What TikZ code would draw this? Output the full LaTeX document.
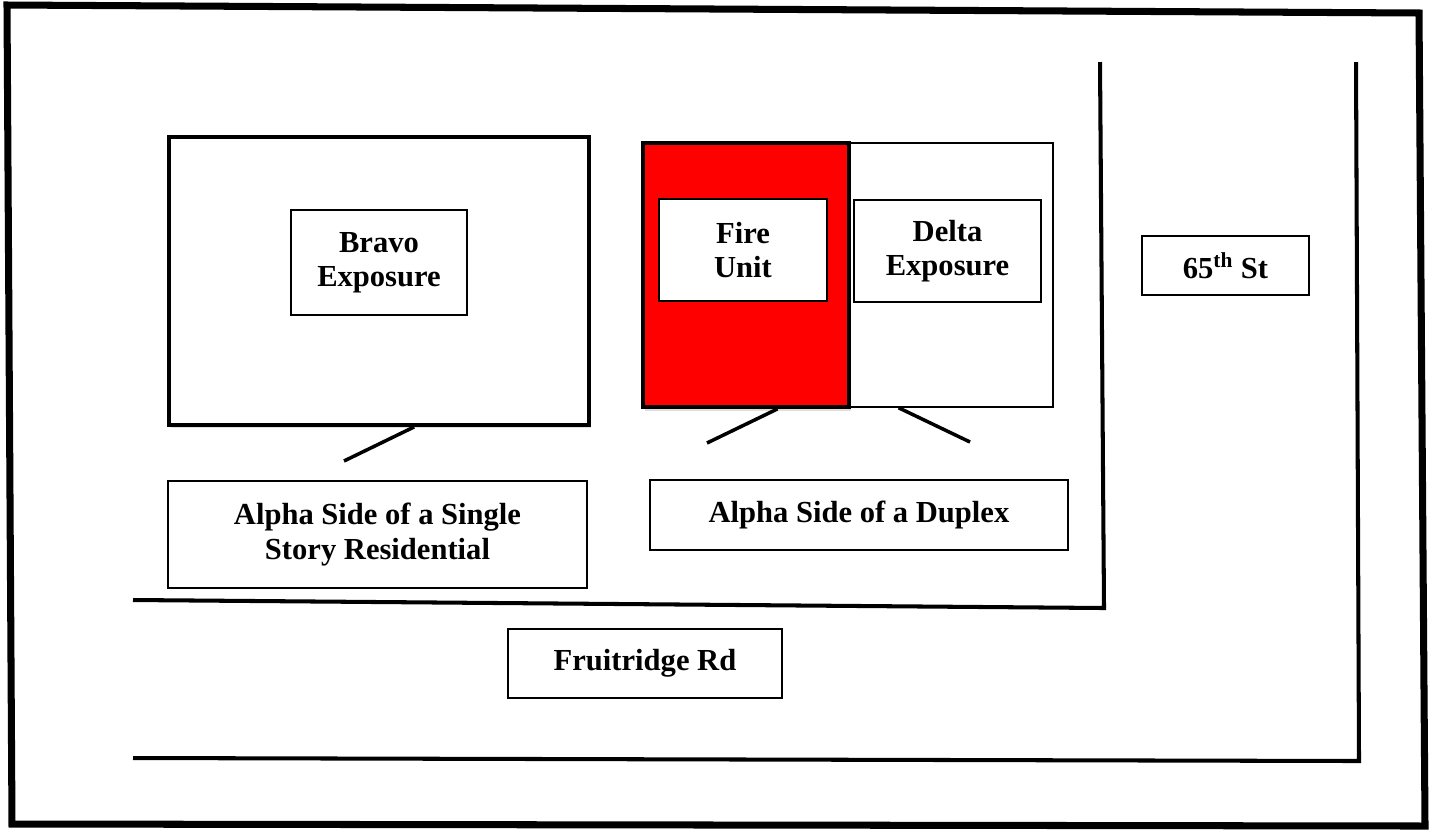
\documentclass[tikz,border=0pt]{standalone}
\usepackage{fontspec}
\setmainfont{Liberation Serif}
\usetikzlibrary{calc,shadows}
\tikzset{
   house/.style={draw, fill=white, line width=2.2pt, inner sep=0pt},
   lbl/.style={draw, fill=white, line width=1.1pt, align=center, inner sep=0pt,
      font=\bfseries\fontsize{17.4}{19.5}\selectfont},
   street/.style={line width=2.3pt},
   leader/.style={line width=2pt},
   soft/.style={drop shadow={opacity=0.25, shadow xshift=1pt, shadow yshift=-2pt}}
}
\begin{document}
\begin{tikzpicture}[x=0.02cm, y=-0.02cm]
   \fill[white] (0, 0) rectangle (1432, 833);
   \useasboundingbox (0, 0) rectangle (1432, 833);
   \draw[line width=4pt] (7, 5) -- (1419, 13) -- (1425, 826) -- (12, 824) -- cycle;
   \draw[street] (1100, 62) -- (1104, 608) -- (133, 600);
   \draw[street] (1356, 62) -- (1359, 761) -- (133, 758);
   \node[house, soft, minimum width=8.4cm, minimum height=5.76cm] (bravo) at (379, 281) {};
   \node[lbl, minimum width=3.52cm, minimum height=2.1cm] (bravoLbl) at (379, 262.5) {Bravo\\Exposure};
   \node[draw, line width=0.9pt, inner sep=0pt, minimum width=4.08cm, minimum height=5.28cm] (delta) at (951, 275) {};
   \node[house, soft, fill=red, minimum width=4.12cm, minimum height=5.28cm] (fire) at (746, 275) {};
   \node[lbl, minimum width=3.36cm, minimum height=2.04cm] (fireLbl) at (743, 250) {Fire\\Unit};
   \node[lbl, minimum width=3.74cm, minimum height=2.04cm] (deltaLbl) at (947.5, 251) {Delta\\Exposure};
   \node[lbl, minimum width=3.34cm, minimum height=1.18cm] (stLbl) at (1225.5, 265.5) {65\textsuperscript{th} St};
   \node[lbl, minimum width=8.38cm, minimum height=2.14cm] (singleLbl) at (377.5, 534.5) {Alpha Side of a Single\\Story Residential};
   \node[lbl, minimum width=8.36cm, minimum height=1.4cm] (duplexLbl) at (859, 515) {Alpha Side of a Duplex};
   \node[lbl, minimum width=5.48cm, minimum height=1.38cm] (roadLbl) at (645, 663.5) {Fruitridge Rd};
   \coordinate (bravoEnd) at (344, 461);
   \coordinate (fireEnd) at (707, 443);
   \coordinate (deltaEnd) at (970, 442);
   \draw[leader] ($(bravo.south west)!0.583!(bravo.south east)$) -- (bravoEnd);
   \draw[leader] ($(fire.south west)!0.65!(fire.south east)$) -- (fireEnd);
   \draw[leader] ($(delta.south west)!0.245!(delta.south east)$) -- (deltaEnd);
\end{tikzpicture}
\end{document}
